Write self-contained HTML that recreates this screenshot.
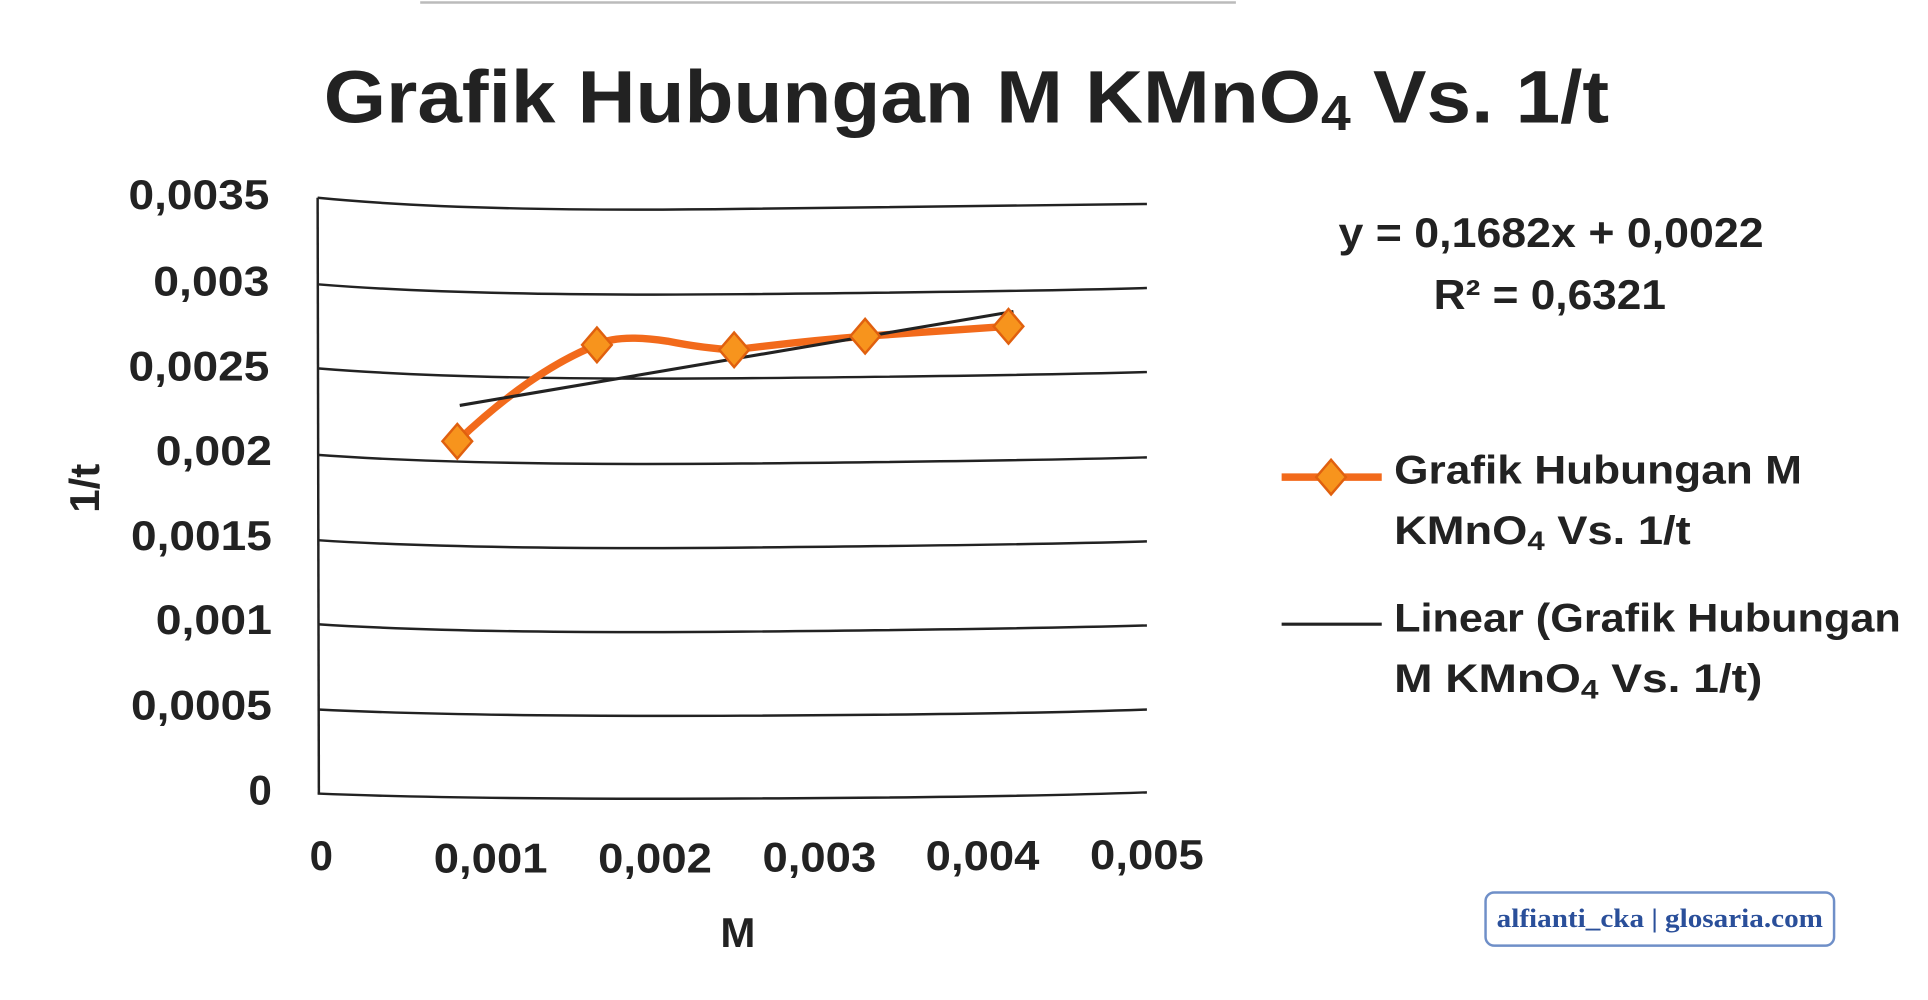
<!DOCTYPE html>
<html><head><meta charset="utf-8"><style>
html,body{margin:0;padding:0;background:#fff;}
svg{display:block;}
text{font-family:"Liberation Sans",sans-serif;fill:#222;}
</style></head><body>
<svg width="1928" height="1000" viewBox="0 0 1560 809" preserveAspectRatio="none" xmlns="http://www.w3.org/2000/svg">
<rect width="1560" height="809" fill="#fff"/>
<line x1="340" y1="2" x2="1000" y2="2" stroke="#bbb" stroke-width="2"/>
<text x="262" y="99" font-size="60" font-weight="bold" fill="#2a2a2a" textLength="1040" lengthAdjust="spacingAndGlyphs">Grafik Hubungan M KMnO<tspan font-size="40" dy="6">4</tspan><tspan dy="-6"> Vs. 1/t</tspan></text>
<g stroke="#222" stroke-width="2" fill="none">
<path d="M257,160 Q380,172 600,169 T928,165"/>
<path d="M257,230 Q380,240 600,238 T928,233"/>
<path d="M257,298 Q380,308 600,306 T928,301"/>
<path d="M257,368 Q380,377 600,375 T928,370"/>
<path d="M257,437 Q380,445 600,443 T928,438"/>
<path d="M257,505 Q380,513 600,511 T928,506"/>
<path d="M257,574 Q380,580 600,579 T928,574"/>
<path d="M257,642 Q380,647 600,646 T928,641"/>
<line x1="257" y1="160" x2="258" y2="642"/>
</g>
<g font-size="34" font-weight="bold" text-anchor="end">
<text x="218" y="169" textLength="114" lengthAdjust="spacingAndGlyphs">0,0035</text>
<text x="218" y="239" textLength="94" lengthAdjust="spacingAndGlyphs">0,003</text>
<text x="218" y="308" textLength="114" lengthAdjust="spacingAndGlyphs">0,0025</text>
<text x="220" y="376" textLength="94" lengthAdjust="spacingAndGlyphs">0,002</text>
<text x="220" y="445" textLength="114" lengthAdjust="spacingAndGlyphs">0,0015</text>
<text x="220" y="513" textLength="94" lengthAdjust="spacingAndGlyphs">0,001</text>
<text x="220" y="582" textLength="114" lengthAdjust="spacingAndGlyphs">0,0005</text>
<text x="220" y="651">0</text>
</g>
<g font-size="34" font-weight="bold" text-anchor="middle">
<text x="260" y="704">0</text>
<text x="397" y="706" textLength="92" lengthAdjust="spacingAndGlyphs">0,001</text>
<text x="530" y="706" textLength="92" lengthAdjust="spacingAndGlyphs">0,002</text>
<text x="663" y="705" textLength="92" lengthAdjust="spacingAndGlyphs">0,003</text>
<text x="795" y="704" textLength="92" lengthAdjust="spacingAndGlyphs">0,004</text>
<text x="928" y="703" textLength="92" lengthAdjust="spacingAndGlyphs">0,005</text>
<text x="597" y="766">M</text>
<text transform="translate(80,395) rotate(-90)">1/t</text>
</g>
<path d="M370,357 Q430,300 483,279 Q500,270 540,276 Q570,282 594,283 Q650,276 700,272 L816,264" stroke="#f26a1b" stroke-width="6" fill="none"/>
<line x1="372" y1="328" x2="820" y2="252" stroke="#222" stroke-width="2.5"/>
<g fill="#f7941d" stroke="#e0600f" stroke-width="2">
<path d="M370,343 L382,357 L370,371 L358,357Z"/>
<path d="M483,265 L495,279 L483,293 L471,279Z"/>
<path d="M594,269 L606,283 L594,297 L582,283Z"/>
<path d="M700,258 L712,272 L700,286 L688,272Z"/>
<path d="M816,250 L828,264 L816,278 L804,264Z"/>
</g>
<g font-size="34" font-weight="bold">
<text x="1083" y="200" textLength="344" lengthAdjust="spacingAndGlyphs">y = 0,1682x + 0,0022</text>
<text x="1160" y="250" textLength="188" lengthAdjust="spacingAndGlyphs">R² = 0,6321</text>
</g>
<line x1="1037" y1="386" x2="1118" y2="386" stroke="#f26a1b" stroke-width="6"/>
<path d="M1077,372 L1089,386 L1077,400 L1065,386Z" fill="#f7941d" stroke="#e0600f" stroke-width="2"/>
<line x1="1037" y1="505" x2="1118" y2="505" stroke="#222" stroke-width="2.5"/>
<g font-size="32" font-weight="bold">
<text x="1128" y="391" textLength="330" lengthAdjust="spacingAndGlyphs">Grafik Hubungan M</text>
<text x="1128" y="440" textLength="240" lengthAdjust="spacingAndGlyphs">KMnO<tspan font-size="22" dy="5">4</tspan><tspan dy="-5"> Vs. 1/t</tspan></text>
<text x="1128" y="511" textLength="410" lengthAdjust="spacingAndGlyphs">Linear (Grafik Hubungan</text>
<text x="1128" y="560" textLength="298" lengthAdjust="spacingAndGlyphs">M KMnO<tspan font-size="22" dy="5">4</tspan><tspan dy="-5"> Vs. 1/t)</tspan></text>
</g>
<rect x="1202" y="722" width="282" height="43" rx="7" fill="#fff" stroke="#6f8fc8" stroke-width="2"/>
<text x="1343" y="750" font-size="21" font-weight="bold" style="fill:#2a4f9a;font-family:'Liberation Serif',serif" text-anchor="middle" textLength="264" lengthAdjust="spacingAndGlyphs">alfianti_cka  |  glosaria.com</text>
</svg>
</body></html>
